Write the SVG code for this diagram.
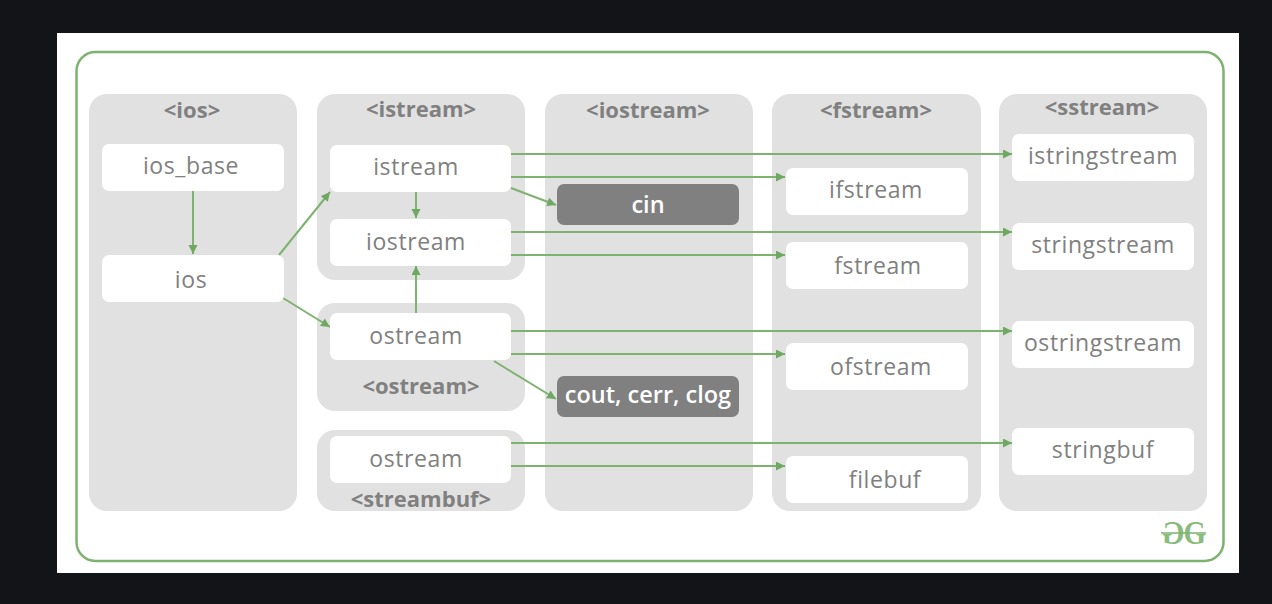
<svg xmlns="http://www.w3.org/2000/svg" width="1272" height="604" viewBox="0 0 1272 604">
<style>
.grp{fill:#e1e1e1}
.box{fill:#fff}
.dark{fill:#808080}
text{font-family:"Open Sans","Noto Sans",sans-serif;text-anchor:middle}
.lbl{font-size:23px;fill:#808080;letter-spacing:.6px}
.hdr{font-size:22px;font-weight:700;fill:#808080}
.inv{font-size:23.500px;font-weight:600;fill:#fff}
.c{fill:none;stroke:#7db26f;stroke-width:2;marker-end:url(#a)}
.gg{font-family:"Liberation Serif",serif;font-size:34px;font-weight:700;fill:#8abb7c;text-anchor:start}
</style>
<defs><marker id="a" markerUnits="userSpaceOnUse" markerWidth="10" markerHeight="10" refX="9" refY="4.5" orient="auto"><path d="M0 0L9 4.5L0 9Z" fill="#6fa862"/></marker></defs>
<rect width="1272" height="604" fill="#131418"/>
<rect x="57" y="33" width="1182" height="540" fill="#fff"/>
<rect x="76.500" y="52" width="1147" height="509" rx="19" fill="none" stroke="#7db26f" stroke-width="2.500"/>
<g id="group-ios"><rect class="grp" x="89" y="94" width="208" height="417" rx="18"/><text class="hdr" x="192" y="118">&lt;ios&gt;</text></g>
<g id="group-istream"><rect class="grp" x="317" y="94" width="208" height="186" rx="18"/><text class="hdr" x="421" y="117">&lt;istream&gt;</text></g>
<g id="group-ostream"><rect class="grp" x="317" y="303" width="208" height="108" rx="18"/><text class="hdr" x="421" y="394">&lt;ostream&gt;</text></g>
<g id="group-streambuf"><rect class="grp" x="317" y="430" width="208" height="81" rx="18"/><text class="hdr" x="421" y="507">&lt;streambuf&gt;</text></g>
<g id="group-iostream"><rect class="grp" x="545" y="94" width="208" height="417" rx="18"/><text class="hdr" x="648" y="118">&lt;iostream&gt;</text></g>
<g id="group-fstream"><rect class="grp" x="772" y="94" width="209" height="417" rx="18"/><text class="hdr" x="876" y="118">&lt;fstream&gt;</text></g>
<g id="group-sstream"><rect class="grp" x="999" y="94" width="208" height="417" rx="18"/><text class="hdr" x="1102" y="115">&lt;sstream&gt;</text></g>
<g id="connectors">
<path class="c" d="M193 191V254"/>
<path class="c" d="M279 255L330 192"/>
<path class="c" d="M283 298L330 327"/>
<path class="c" d="M416 192V218"/>
<path class="c" d="M416 313V266"/>
<path class="c" d="M511 154H1012"/>
<path class="c" d="M511 177H785"/>
<path class="c" d="M511 188L556 205"/>
<path class="c" d="M511 232H1012"/>
<path class="c" d="M511 255H785"/>
<path class="c" d="M511 331H1012"/>
<path class="c" d="M511 354H785"/>
<path class="c" d="M494 361L556 399"/>
<path class="c" d="M511 443H1012"/>
<path class="c" d="M511 466H785"/>
</g>
<g id="ios_base"><rect class="box" x="102" y="144" width="182" height="47" rx="7"/><text class="lbl" x="191" y="174">ios_base</text></g>
<g id="ios"><rect class="box" x="102" y="255" width="182" height="47" rx="7"/><text class="lbl" x="191" y="288">ios</text></g>
<g id="istream"><rect class="box" x="330" y="145" width="181" height="47" rx="7"/><text class="lbl" x="416" y="175">istream</text></g>
<g id="iostream"><rect class="box" x="330" y="219" width="181" height="47" rx="7"/><text class="lbl" x="416" y="250">iostream</text></g>
<g id="ostream"><rect class="box" x="330" y="313" width="181" height="47" rx="7"/><text class="lbl" x="416" y="344">ostream</text></g>
<g id="ostream-buf"><rect class="box" x="330" y="436" width="181" height="47" rx="7"/><text class="lbl" x="416" y="467">ostream</text></g>
<g id="cin"><rect class="dark" x="557" y="184" width="182" height="41" rx="7"/><text class="inv" x="648" y="213">cin</text></g>
<g id="cout"><rect class="dark" x="557" y="376" width="182" height="41" rx="7"/><text class="inv" x="648" y="403">cout, cerr, clog</text></g>
<g id="ifstream"><rect class="box" x="786" y="168" width="182" height="47" rx="7"/><text class="lbl" x="876" y="198">ifstream</text></g>
<g id="fstream"><rect class="box" x="786" y="242" width="182" height="47" rx="7"/><text class="lbl" x="878" y="274">fstream</text></g>
<g id="ofstream"><rect class="box" x="786" y="343" width="182" height="47" rx="7"/><text class="lbl" x="881" y="375">ofstream</text></g>
<g id="filebuf"><rect class="box" x="786" y="456" width="182" height="47" rx="7"/><text class="lbl" x="885" y="488">filebuf</text></g>
<g id="istringstream"><rect class="box" x="1012" y="134" width="182" height="47" rx="7"/><text class="lbl" x="1103" y="164">istringstream</text></g>
<g id="stringstream"><rect class="box" x="1012" y="223" width="182" height="47" rx="7"/><text class="lbl" x="1103" y="253">stringstream</text></g>
<g id="ostringstream"><rect class="box" x="1012" y="321" width="182" height="47" rx="7"/><text class="lbl" x="1103" y="351">ostringstream</text></g>
<g id="stringbuf"><rect class="box" x="1012" y="428" width="182" height="47" rx="7"/><text class="lbl" x="1103" y="458">stringbuf</text></g>
<g id="logo">
<text class="gg" transform="translate(1184.500 544) scale(-.85 1)">G</text>
<text class="gg" transform="translate(1183.500 544) scale(.85 1)">G</text>
<path d="M1161 533H1206" stroke="#7db26f" stroke-width="1.500"/>
</g>
</svg>
